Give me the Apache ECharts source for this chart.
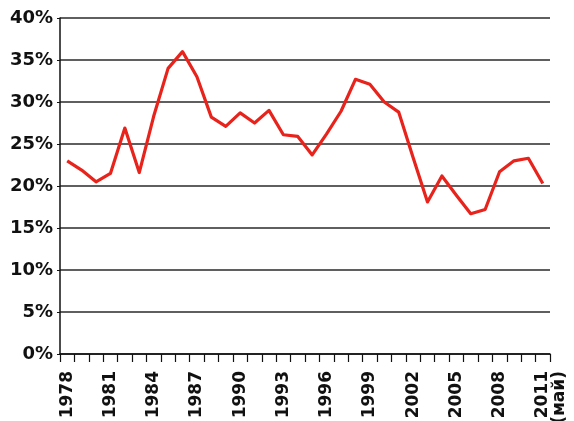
<!DOCTYPE html>
<html>
<head>
<meta charset="utf-8">
<script src="https://cdn.jsdelivr.net/npm/echarts@6/dist/echarts.min.js"></script>
<style>html,body{margin:0;padding:0;background:#fff;}#c{width:574px;height:421px;}</style>
</head>
<body>
<div id="c"></div>
<script>
const years = ['1978','1979','1980','1981','1982','1983','1984','1985','1986','1987','1988','1989','1990','1991','1992','1993','1994','1995','1996','1997','1998','1999','2000','2001','2002','2003','2004','2005','2006','2007','2008','2009','2010','2011'];
const values = [23.0,21.9,20.5,21.5,26.9,21.6,28.3,34.0,36.0,33.0,28.2,27.1,28.7,27.5,29.0,26.1,25.9,23.7,26.2,28.9,32.7,32.1,30.0,28.8,23.4,18.1,21.2,18.9,16.7,17.2,21.7,23.0,23.3,20.3];
const lastNote = '(май)';
const yTicks = [0,5,10,15,20,25,30,35,40];

const chart = echarts.init(document.getElementById('c'), null, {renderer:'canvas'});
chart.setOption({
  animation:false,
  backgroundColor:'#fff',
  grid:{left:60,right:24,top:18,bottom:67,containLabel:false,outerBoundsMode:'none'},
  xAxis:{
    type:'category',
    data:years,
    boundaryGap:true,
    axisLine:{lineStyle:{color:'#111',width:1.5}},
    axisTick:{show:true,interval:0,length:8,lineStyle:{color:'#111',width:1.2}},
    axisLabel:{
      interval:2,rotate:90,margin:17,
      fontFamily:'DejaVu Sans',fontWeight:'bold',fontSize:17,color:'#111',
      formatter:function(v,i){return i===years.length-1 ? '\n'+v+'\n'+lastNote : v;}
    },
    splitLine:{show:false}
  },
  yAxis:{
    type:'value',min:yTicks[0],max:yTicks[yTicks.length-1],interval:5,
    axisLine:{show:true,lineStyle:{color:'#111',width:1.5}},
    axisTick:{show:true,length:3,lineStyle:{color:'#111'}},
    axisLabel:{formatter:'{value}%',margin:7,fontFamily:'DejaVu Sans',fontWeight:'bold',fontSize:18,color:'#111'},
    splitLine:{show:true,lineStyle:{color:'#2a2a2a',width:1.5}}
  },
  series:[{
    type:'line',data:values,symbol:'none',
    lineStyle:{color:'#e8231c',width:3.2,join:'round'}
  }]
});
</script>
</body>
</html>
